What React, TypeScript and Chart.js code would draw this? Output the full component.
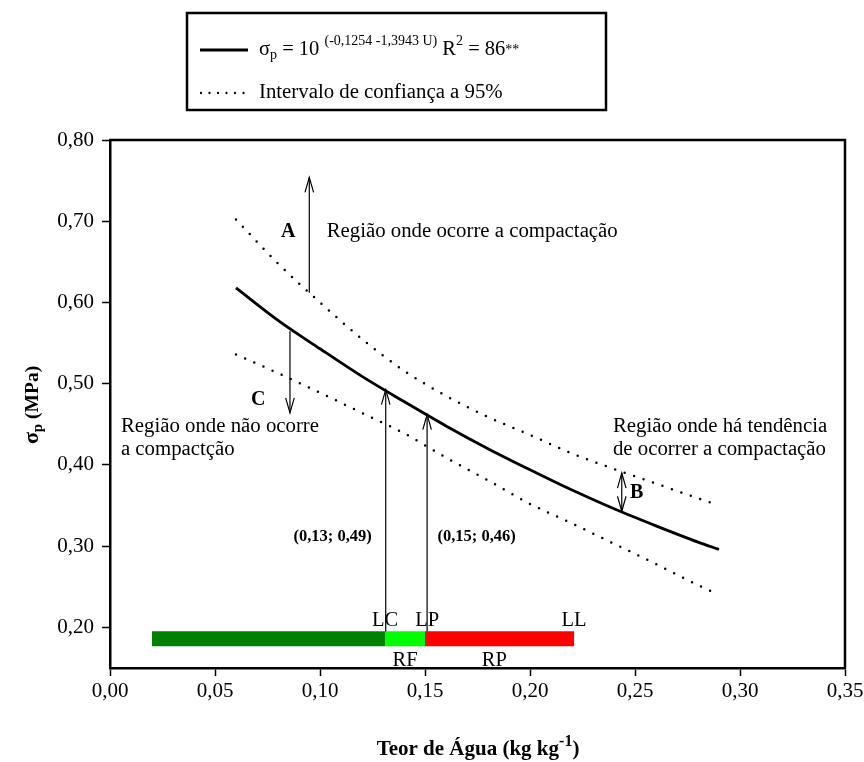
import React, { useEffect, useRef } from "react";
import { Chart, registerables } from "chart.js";

Chart.register(...registerables);

const SERIF = '"Liberation Serif", "Times New Roman", serif';

// ---- data ----
const waterContent = [0.06, 0.08, 0.1, 0.12, 0.14, 0.16, 0.18, 0.2, 0.22, 0.24, 0.26, 0.28, 0.29];
const fittedStress = [0.618, 0.578, 0.543, 0.509, 0.478, 0.448, 0.42, 0.394, 0.369, 0.346, 0.325, 0.305, 0.296];
const upperCI = [0.702, 0.648, 0.6, 0.555, 0.516, 0.485, 0.459, 0.437, 0.414, 0.395, 0.377, 0.359, 0.35];
const lowerCI = [0.536, 0.513, 0.489, 0.464, 0.439, 0.409, 0.381, 0.352, 0.328, 0.303, 0.278, 0.252, 0.24];

const xTicks = [0, 0.05, 0.1, 0.15, 0.2, 0.25, 0.3, 0.35];
const yTicks = [0.2, 0.3, 0.4, 0.5, 0.6, 0.7, 0.8];

// consistency range bar
const rangeStart = [0.02, 0.131, 0.15];
const rangeEnd = [0.131, 0.15, 0.221];
const rangeColors = ["#008000", "#00ff00", "#ff0000"];
const rangeLevel = 0.186;
const limitNames = ["LC", "LP", "LL"];
const limitX = [0.131, 0.151, 0.221];
const zoneNames = ["RF", "RP"];
const zoneX = [0.1405, 0.183];

// arrows: x, from y, to y, double-headed
const arrowX = [0.0949, 0.0857, 0.2437, 0.1313, 0.151];
const arrowFrom = [0.612, 0.5645, 0.343, 0.195, 0.195];
const arrowTo = [0.754, 0.464, 0.39, 0.4927, 0.462];
const arrowDouble = [false, false, true, false, false];

// letter marks
const markText = ["A", "B", "C"];
const markX = [0.0849, 0.2508, 0.0706];
const markY = [0.6865, 0.3655, 0.4804];

// coordinate labels
const pointLabels = ["(0,13; 0,49)", "(0,15; 0,46)"];
const pointLabelX = [0.106, 0.1746];
const pointLabelY = [0.312, 0.312];

// region notes (left aligned, first line y)
const noteLines = [
  ["Região onde ocorre a compactação"],
  ["Região onde não ocorre", "a compactção"],
  ["Região onde há tendência", "de ocorrer a compactação"],
];
const noteX = [0.1032, 0.0052, 0.2395];
const noteY = [0.6877, 0.4475, 0.4475];

type Run = { text: string; font: string; dy: number };

function runsWidth(ctx: CanvasRenderingContext2D, runs: Run[]) {
  let w = 0;
  for (const r of runs) {
    ctx.font = r.font;
    w += ctx.measureText(r.text).width;
  }
  return w;
}

function drawRuns(ctx: CanvasRenderingContext2D, x: number, y: number, runs: Run[]) {
  let cx = x;
  ctx.textAlign = "left";
  ctx.textBaseline = "alphabetic";
  for (const r of runs) {
    ctx.font = r.font;
    ctx.fillText(r.text, cx, y + r.dy);
    cx += ctx.measureText(r.text).width;
  }
}

function arrowHead(ctx: CanvasRenderingContext2D, x: number, tip: number, dir: number) {
  const len = 15;
  const hw = 4.3;
  ctx.beginPath();
  ctx.moveTo(x - hw, tip - dir * len);
  ctx.lineTo(x, tip);
  ctx.lineTo(x + hw, tip - dir * len);
  ctx.stroke();
}

const overlay = {
  id: "overlay",
  afterDatasetsDraw(chart: any) {
    const { ctx, chartArea: a } = chart;
    const xs = chart.scales.x;
    const ys = chart.scales.y;
    const px = (v: number) => xs.getPixelForValue(v);
    const py = (v: number) => ys.getPixelForValue(v);
    ctx.save();
    ctx.fillStyle = "#000";
    ctx.strokeStyle = "#000";

    // frame top + right
    ctx.lineWidth = 2.5;
    ctx.beginPath();
    ctx.moveTo(a.left - 1, a.top);
    ctx.lineTo(a.right, a.top);
    ctx.lineTo(a.right, a.bottom + 1);
    ctx.stroke();

    // arrows
    ctx.lineWidth = 1.2;
    for (let i = 0; i < arrowX.length; i++) {
      const x = px(arrowX[i]);
      const y1 = py(arrowFrom[i]);
      const y2 = py(arrowTo[i]);
      ctx.beginPath();
      ctx.moveTo(x, y1);
      ctx.lineTo(x, y2);
      ctx.stroke();
      const dir = y2 < y1 ? -1 : 1;
      arrowHead(ctx, x, y2, dir);
      if (arrowDouble[i]) arrowHead(ctx, x, y1, -dir);
    }

    // letter marks
    ctx.font = `bold 20px ${SERIF}`;
    ctx.textAlign = "center";
    ctx.textBaseline = "middle";
    for (let i = 0; i < markText.length; i++) {
      ctx.fillText(markText[i], px(markX[i]), py(markY[i]));
    }

    // point labels
    ctx.font = `bold 16.5px ${SERIF}`;
    for (let i = 0; i < pointLabels.length; i++) {
      ctx.fillText(pointLabels[i], px(pointLabelX[i]), py(pointLabelY[i]));
    }

    // notes
    ctx.font = `20.8px ${SERIF}`;
    ctx.textAlign = "left";
    for (let i = 0; i < noteLines.length; i++) {
      noteLines[i].forEach((line, j) => {
        ctx.fillText(line, px(noteX[i]), py(noteY[i]) + j * 23.5);
      });
    }

    // range labels
    const barY = py(rangeLevel);
    ctx.textAlign = "center";
    ctx.textBaseline = "alphabetic";
    ctx.font = `20.5px ${SERIF}`;
    for (let i = 0; i < limitNames.length; i++) {
      ctx.fillText(limitNames[i], px(limitX[i]), barY - 12.5);
    }
    for (let i = 0; i < zoneNames.length; i++) {
      ctx.fillText(zoneNames[i], px(zoneX[i]), barY + 27);
    }
    ctx.restore();
  },
  afterDraw(chart: any) {
    const { ctx, chartArea: a } = chart;
    ctx.save();
    ctx.fillStyle = "#000";
    ctx.strokeStyle = "#000";

    // legend box
    ctx.lineWidth = 2.5;
    ctx.strokeRect(187, 13, 419, 97);
    ctx.lineWidth = 2.8;
    ctx.beginPath();
    ctx.moveTo(200, 50);
    ctx.lineTo(248, 50);
    ctx.stroke();
    ctx.lineWidth = 2.3;
    ctx.lineCap = "round";
    ctx.setLineDash([0, 8.5]);
    ctx.beginPath();
    ctx.moveTo(201, 93);
    ctx.lineTo(248, 93);
    ctx.stroke();
    ctx.setLineDash([]);
    ctx.lineCap = "butt";

    const big = `20.5px ${SERIF}`;
    const small = `14px ${SERIF}`;
    drawRuns(ctx, 259, 55, [
      { text: "σ", font: big, dy: 0 },
      { text: "p", font: small, dy: 4 },
      { text: " = 10 ", font: big, dy: 0 },
      { text: "(-0,1254 -1,3943 U)", font: small, dy: -10 },
      { text: " R", font: big, dy: 0 },
      { text: "2", font: small, dy: -10 },
      { text: " = 86", font: big, dy: 0 },
      { text: "**", font: small, dy: -1 },
    ]);
    ctx.font = `20.8px ${SERIF}`;
    ctx.fillText("Intervalo de confiança a 95%", 259, 98);

    // x axis title
    const xRuns: Run[] = [
      { text: "Teor de Água (kg kg", font: `bold 21px ${SERIF}`, dy: 0 },
      { text: "-1", font: `bold 16px ${SERIF}`, dy: -9 },
      { text: ")", font: `bold 21px ${SERIF}`, dy: 0 },
    ];
    const xw = runsWidth(ctx, xRuns);
    drawRuns(ctx, 478 - xw / 2, 755, xRuns);

    // y axis title
    const yRuns: Run[] = [
      { text: "σ", font: `bold 22px ${SERIF}`, dy: 0 },
      { text: "p", font: `bold 15px ${SERIF}`, dy: 4 },
      { text: " (MPa)", font: `bold 19.5px ${SERIF}`, dy: 0 },
    ];
    const yw = runsWidth(ctx, yRuns);
    ctx.translate(38, 405);
    ctx.rotate(-Math.PI / 2);
    drawRuns(ctx, -yw / 2, 0, yRuns);
    ctx.restore();
  },
};

export default function App() {
  const ref = useRef<HTMLCanvasElement>(null);
  useEffect(() => {
    document.body.style.margin = "0";
    const canvas = ref.current!;
    const line = (vals: number[]) => waterContent.map((x, i) => ({ x, y: vals[i] }));
    const datasets: any[] = [];
    for (let i = 0; i < rangeStart.length; i++) {
      datasets.push({
        data: [
          { x: rangeStart[i], y: rangeLevel },
          { x: rangeEnd[i], y: rangeLevel },
        ],
        borderColor: rangeColors[i],
        borderWidth: 15,
        borderCapStyle: "butt",
        pointRadius: 0,
        showLine: true,
      });
    }
    const dotted = {
      borderColor: "#000",
      borderWidth: 2.5,
      borderDash: [0, 10],
      borderCapStyle: "round",
      pointRadius: 0,
      showLine: true,
      cubicInterpolationMode: "monotone",
    };
    datasets.push({ ...dotted, data: line(upperCI) });
    datasets.push({ ...dotted, data: line(lowerCI) });
    datasets.push({
      data: line(fittedStress),
      borderColor: "#000",
      borderWidth: 2.8,
      pointRadius: 0,
      showLine: true,
      cubicInterpolationMode: "monotone",
    });

    const tickFont = { family: SERIF, size: 21 };
    const chart = new Chart(canvas, {
      type: "scatter",
      data: { datasets },
      options: {
        responsive: false,
        animation: false,
        layout: { padding: { top: 140, right: 19, left: 0, bottom: 0 } },
        plugins: { legend: { display: false }, tooltip: { enabled: false } },
        scales: {
          x: {
            type: "linear",
            min: 0,
            max: 0.35,
            afterBuildTicks: (s: any) => {
              s.ticks = xTicks.map((value) => ({ value }));
            },
            afterFit: (s: any) => {
              s.height = 94;
              s.paddingLeft = 0;
              s.paddingRight = 0;
            },
            ticks: {
              color: "#000",
              font: tickFont,
              padding: 3,
              maxRotation: 0,
              autoSkip: false,
              callback: (v: any) => Number(v).toFixed(2).replace(".", ","),
            },
            grid: {
              display: true,
              drawOnChartArea: false,
              drawTicks: true,
              tickLength: 8,
              tickColor: "#000",
              tickWidth: 1.5,
            },
            border: { display: true, color: "#000", width: 2.5 },
          },
          y: {
            type: "linear",
            min: 0.15,
            max: 0.8,
            afterBuildTicks: (s: any) => {
              s.ticks = yTicks.map((value) => ({ value }));
            },
            afterFit: (s: any) => {
              s.width = 110;
              s.paddingTop = 0;
              s.paddingBottom = 0;
            },
            ticks: {
              color: "#000",
              font: tickFont,
              padding: 8,
              autoSkip: false,
              callback: (v: any) => Number(v).toFixed(2).replace(".", ","),
            },
            grid: {
              display: true,
              drawOnChartArea: false,
              drawTicks: true,
              tickLength: 8,
              tickColor: "#000",
              tickWidth: 1.5,
            },
            border: { display: true, color: "#000", width: 2.5 },
          },
        },
      },
      plugins: [overlay],
    } as any);
    return () => chart.destroy();
  }, []);
  return <canvas ref={ref} width={864} height={762} style={{ display: "block" }} />;
}
